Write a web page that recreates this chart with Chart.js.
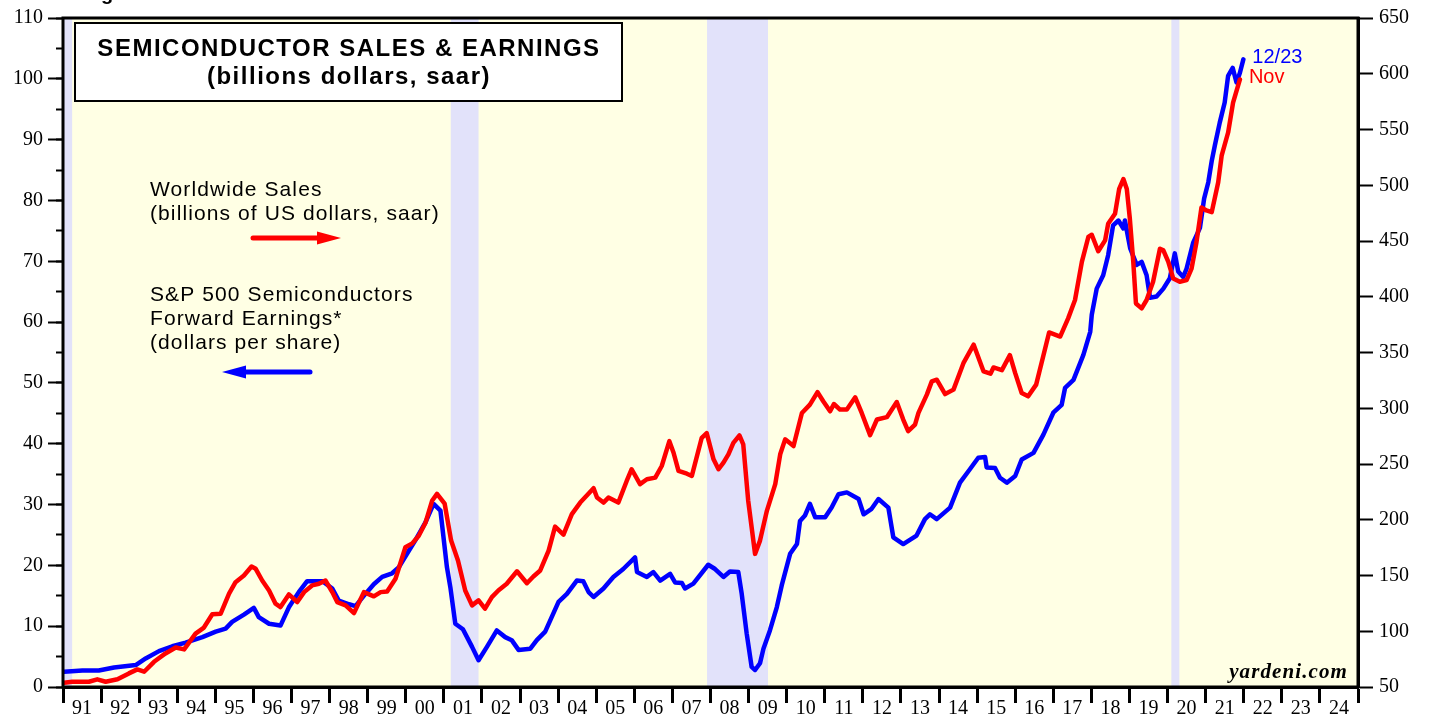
<!DOCTYPE html>
<html><head><meta charset="utf-8">
<script src="https://cdn.jsdelivr.net/npm/chart.js@4.4.1/dist/chart.umd.min.js"></script>
<style>html,body{margin:0;padding:0;background:#fff;overflow:hidden}canvas{display:block}</style>
</head><body><canvas id="c" width="1429" height="719"></canvas>
<script>
// Worldwide semiconductor sales (billions of US dollars, saar) - right axis
const salesYears = [1991.03,1991.24,1991.68,1991.90,1992.12,1992.43,1992.73,1992.95,1993.13,1993.39,1993.69,1993.96,1994.18,1994.48,1994.70,1994.92,1995.14,1995.36,1995.53,1995.75,1995.95,1996.06,1996.23,1996.41,1996.58,1996.71,1996.93,1997.15,1997.33,1997.54,1997.72,1997.89,1998.07,1998.20,1998.42,1998.64,1998.90,1999.16,1999.34,1999.51,1999.73,1999.99,2000.17,2000.34,2000.52,2000.69,2000.82,2001.02,2001.19,2001.37,2001.56,2001.74,2001.91,2002.08,2002.26,2002.43,2002.65,2002.92,2003.18,2003.35,2003.53,2003.75,2003.92,2004.14,2004.36,2004.58,2004.93,2005.02,2005.19,2005.32,2005.58,2005.80,2005.93,2006.15,2006.33,2006.55,2006.72,2006.92,2007.03,2007.16,2007.38,2007.51,2007.77,2007.90,2008.08,2008.21,2008.34,2008.47,2008.60,2008.76,2008.86,2008.99,2009.17,2009.30,2009.48,2009.70,2009.83,2009.96,2010.18,2010.40,2010.61,2010.81,2010.96,2011.14,2011.24,2011.40,2011.58,2011.80,2011.97,2012.19,2012.37,2012.63,2012.89,2013.06,2013.19,2013.37,2013.46,2013.68,2013.81,2013.94,2014.16,2014.38,2014.64,2014.91,2015.17,2015.35,2015.43,2015.65,2015.86,2016.00,2016.17,2016.34,2016.55,2016.76,2016.89,2017.18,2017.39,2017.57,2017.75,2017.92,2018.01,2018.18,2018.36,2018.44,2018.62,2018.73,2018.84,2018.93,2019.01,2019.10,2019.17,2019.32,2019.45,2019.62,2019.80,2019.89,2020.02,2020.15,2020.32,2020.50,2020.63,2020.76,2020.89,2021.02,2021.16,2021.33,2021.42,2021.59,2021.72,2021.90];
const salesValues = [53.8,54.7,54.7,56.9,54.7,56.9,62.2,65.8,63.7,72.6,80.1,85.4,83.7,97.9,103.3,115.2,115.8,133.7,144.0,150.0,158.0,156.0,145.5,136.6,124.7,121.7,133.0,126.2,135.1,141.1,142.6,145.5,135.1,126.2,123.2,116.3,135.1,131.3,135.1,135.7,147.1,175.3,178.8,185.7,197.6,217.0,223.2,214.5,181.3,163.4,136.6,123.2,127.7,120.3,130.6,136.6,142.6,153.8,143.1,149.1,154.5,172.3,193.8,186.6,205.1,215.4,228.3,219.9,215.4,219.9,215.4,234.8,245.3,231.9,236.3,237.8,248.2,270.5,260.1,243.8,241.3,239.3,273.5,277.7,254.2,245.3,251.2,258.7,269.0,275.6,267.6,217.0,169.4,181.3,208.0,231.9,258.7,272.1,266.1,295.8,303.3,314.5,306.3,297.3,303.8,298.8,298.8,309.8,295.8,275.9,289.9,292.0,305.6,289.9,279.5,285.4,295.8,312.2,324.1,325.6,312.7,316.7,340.4,357.0,333.0,331.0,336.6,334.2,347.6,331.5,313.7,310.7,321.2,350.0,368.0,364.3,380.6,397.1,431.3,453.6,455.6,440.8,450.6,465.4,474.4,496.7,505.6,496.7,469.9,431.3,394.0,389.6,397.1,413.4,443.1,441.6,431.3,416.3,413.4,414.9,425.3,449.1,480.0,477.4,475.9,502.7,526.5,547.3,574.1,594.9];

// S&P 500 Semiconductors forward earnings (dollars per share) - left axis
const earnYears = [1991.03,1991.51,1991.94,1992.34,1992.91,1993.17,1993.52,1993.87,1994.22,1994.66,1995.01,1995.27,1995.44,1995.75,1996.01,1996.14,1996.41,1996.71,1996.93,1997.19,1997.41,1997.81,1998.07,1998.24,1998.51,1998.68,1998.94,1999.16,1999.38,1999.64,1999.82,2000.08,2000.25,2000.52,2000.73,2000.91,2001.08,2001.17,2001.30,2001.50,2001.74,2001.91,2002.13,2002.39,2002.61,2002.78,2002.96,2003.27,2003.44,2003.66,2004.01,2004.23,2004.49,2004.66,2004.80,2004.93,2005.19,2005.45,2005.71,2006.02,2006.07,2006.33,2006.50,2006.68,2006.94,2007.07,2007.25,2007.33,2007.55,2007.94,2008.12,2008.34,2008.51,2008.73,2008.82,2008.95,2009.08,2009.17,2009.30,2009.39,2009.56,2009.74,2009.87,2010.09,2010.27,2010.35,2010.48,2010.61,2010.75,2011.01,2011.18,2011.36,2011.58,2011.89,2012.02,2012.23,2012.41,2012.67,2012.80,2013.06,2013.41,2013.63,2013.76,2013.94,2014.29,2014.55,2014.81,2015.03,2015.21,2015.25,2015.47,2015.60,2015.78,2016.00,2016.17,2016.48,2016.74,2017.00,2017.22,2017.31,2017.53,2017.79,2017.97,2018.01,2018.14,2018.31,2018.44,2018.57,2018.71,2018.84,2018.88,2019.02,2019.19,2019.32,2019.45,2019.54,2019.71,2019.89,2020.06,2020.19,2020.28,2020.41,2020.50,2020.67,2020.85,2020.96,2021.07,2021.16,2021.24,2021.37,2021.50,2021.59,2021.71,2021.81,2021.90,2021.99];
const earnValues = [2.5,2.7,2.7,3.2,3.6,4.7,5.9,6.7,7.3,8.2,9.1,9.6,10.7,11.9,13.0,11.5,10.4,10.1,13.1,15.6,17.4,17.4,16.2,14.2,13.6,13.3,15.3,16.9,18.1,18.7,19.7,22.4,24.1,27.1,30.1,29.0,19.7,16.4,10.4,9.5,6.6,4.4,6.6,9.3,8.2,7.7,6.1,6.3,7.7,9.1,14.0,15.3,17.5,17.4,15.6,14.8,16.2,18.1,19.4,21.3,18.9,18.1,18.9,17.5,18.6,17.2,17.1,16.2,17.0,20.1,19.4,18.1,19.0,18.9,15.3,8.8,3.3,2.8,3.9,6.3,9.3,13.1,16.7,21.9,23.5,27.3,28.2,30.1,27.9,27.9,29.5,31.7,32.0,30.9,28.4,29.3,30.9,29.5,24.6,23.5,24.9,27.6,28.4,27.6,29.5,33.6,35.8,37.7,37.8,36.1,36.0,34.4,33.6,34.7,37.4,38.5,41.5,45.1,46.4,49.2,50.5,54.6,58.4,61.2,65.5,67.7,71.0,75.9,76.7,75.4,76.7,72.1,69.4,69.9,67.7,64.0,64.2,65.5,67.2,71.3,68.3,67.4,68.8,73.0,75.5,80.3,83.0,86.5,89.0,92.8,96.1,100.5,101.8,99.4,101.0,103.2];

const yearLabels = ['91','92','93','94','95','96','97','98','99','00','01','02','03','04','05','06','07','08','09','10','11','12','13','14','15','16','17','18','19','20','21','22','23','24'];
const firstYear = 1991;
const recessions = [[1990.5,1991.24],[2001.18,2001.91],[2007.91,2009.51],[2020.10,2020.31]];
const titleLines = ['SEMICONDUCTOR SALES & EARNINGS','(billions dollars, saar)'];
const salesLegend = ['Worldwide Sales','(billions of US dollars, saar)'];
const earnLegend = ['S&P 500 Semiconductors','Forward Earnings*','(dollars per share)'];
const earnEndLabel = '12/23';
const salesEndLabel = 'Nov';
const sourceLabel = 'yardeni.com';

const RED = '#FF0000', BLUE = '#0000FF';

function txt(ctx, s, x, y, font, color, align, spacing) {
  ctx.save();
  ctx.font = font; ctx.fillStyle = color; ctx.textAlign = align || 'left'; ctx.textBaseline = 'alphabetic';
  if ('letterSpacing' in ctx) ctx.letterSpacing = (spacing || 0) + 'px';
  ctx.fillText(s, x, y);
  ctx.restore();
}
function arrow(ctx, x1, x2, y, color) {
  ctx.save();
  ctx.strokeStyle = color; ctx.fillStyle = color; ctx.lineWidth = 5; ctx.lineCap = 'round';
  const dir = Math.sign(x2 - x1);
  const hx = x2 - dir * 24;
  ctx.beginPath(); ctx.moveTo(x1, y); ctx.lineTo(hx, y); ctx.stroke();
  ctx.beginPath(); ctx.moveTo(x2, y); ctx.lineTo(hx, y - 6.5); ctx.lineTo(hx, y + 6.5); ctx.closePath(); ctx.fill();
  ctx.restore();
}

const decor = {
  id: 'decor',
  beforeDatasetsDraw(chart) {
    const {ctx, chartArea: a, scales} = chart;
    ctx.save();
    ctx.fillStyle = 'rgb(255,255,228)';
    ctx.fillRect(a.left, a.top, a.right - a.left, a.bottom - a.top);
    ctx.beginPath(); ctx.rect(a.left, a.top, a.right - a.left, a.bottom - a.top); ctx.clip();
    ctx.fillStyle = 'rgb(226,226,250)';
    recessions.forEach(([s, e]) => {
      const x1 = scales.x.getPixelForValue(s), x2 = scales.x.getPixelForValue(e);
      ctx.fillRect(x1, a.top, x2 - x1, a.bottom - a.top);
    });
    ctx.restore();
  },
  afterDatasetsDraw(chart) {
    const {ctx, chartArea: a, scales} = chart;
    ctx.save();
    ctx.strokeStyle = '#000'; ctx.lineWidth = 3;
    ctx.strokeRect(a.left, a.top, a.right - a.left, a.bottom - a.top);
    ctx.restore();
    // title box
    ctx.save();
    ctx.fillStyle = '#fff'; ctx.fillRect(75, 23, 547, 78);
    ctx.strokeStyle = '#000'; ctx.lineWidth = 2; ctx.strokeRect(75, 23, 547, 78);
    ctx.restore();
    const tf = 'bold 24px "Liberation Sans", Arial, sans-serif';
    txt(ctx, titleLines[0], 349, 56, tf, '#000', 'center', 1.5);
    txt(ctx, titleLines[1], 349, 84, tf, '#000', 'center', 1.5);
    // legend
    const lf = '21px "Liberation Sans", Arial, sans-serif';
    txt(ctx, salesLegend[0], 150, 196, lf, '#000', 'left', 1.1);
    txt(ctx, salesLegend[1], 150, 220, lf, '#000', 'left', 1.1);
    arrow(ctx, 253, 341, 238, RED);
    txt(ctx, earnLegend[0], 150, 301, lf, '#000', 'left', 1.1);
    txt(ctx, earnLegend[1], 150, 325, lf, '#000', 'left', 1.1);
    txt(ctx, earnLegend[2], 150, 349, lf, '#000', 'left', 1.1);
    arrow(ctx, 310, 222, 372, BLUE);
    // end labels
    const bx = scales.x.getPixelForValue(earnYears[earnYears.length - 1]);
    const by = scales.y.getPixelForValue(earnValues[earnValues.length - 1]);
    txt(ctx, earnEndLabel, bx + 9, by + 4, '20px "Liberation Sans", Arial, sans-serif', BLUE, 'left', 0);
    const rx = scales.x.getPixelForValue(salesYears[salesYears.length - 1]);
    const ry = scales.y2.getPixelForValue(salesValues[salesValues.length - 1]);
    txt(ctx, salesEndLabel, rx + 9, ry + 4, '20px "Liberation Sans", Arial, sans-serif', RED, 'left', 0);
    // source
    txt(ctx, sourceLabel, 1348, 678, 'bold italic 21px "Liberation Serif", "Times New Roman", serif', '#000', 'right', 1.1);
    // clipped header glyph at top
    txt(ctx, 'g', 101, 0, 'bold 20px "Liberation Sans", Arial, sans-serif', '#000', 'left', 0);
  }
};

const serif = {family: '"Liberation Serif", "Times New Roman", serif', size: 20};

new Chart(document.getElementById('c'), {
  type: 'line',
  data: {
    datasets: [
      {label: 'Worldwide Sales', yAxisID: 'y2', data: salesYears.map((x, i) => ({x, y: salesValues[i]})), borderColor: RED, borderWidth: 4.5, pointRadius: 0, tension: 0, borderJoinStyle: 'round', borderCapStyle: 'round', fill: false},
      {label: 'Forward Earnings', yAxisID: 'y', data: earnYears.map((x, i) => ({x, y: earnValues[i]})), borderColor: BLUE, borderWidth: 4.5, pointRadius: 0, tension: 0, borderJoinStyle: 'round', borderCapStyle: 'round', fill: false}
    ]
  },
  options: {
    responsive: false, animation: false, devicePixelRatio: 1,
    layout: {padding: {top: 15, left: 0, right: 0, bottom: 0}},
    plugins: {legend: {display: false}, tooltip: {enabled: false}, title: {display: false}},
    scales: {
      x: {
        type: 'linear', position: 'bottom', min: firstYear, max: firstYear + yearLabels.length,
        afterBuildTicks: s => {
          const t = [];
          for (let i = 0; i < yearLabels.length; i++) { t.push({value: firstYear + i}); t.push({value: firstYear + i + 0.5}); }
          t.push({value: firstYear + yearLabels.length});
          s.ticks = t;
        },
        ticks: {
          autoSkip: false, maxRotation: 0, minRotation: 0, padding: -6, color: '#000', font: serif,
          callback: v => (Math.abs(v - Math.floor(v) - 0.5) < 0.01) ? yearLabels[Math.floor(v) - firstYear] : ''
        },
        grid: {drawOnChartArea: false, drawTicks: true, tickLength: 16, tickWidth: 3,
          tickColor: c => (c.tick && Number.isInteger(c.tick.value)) ? '#000' : 'rgba(0,0,0,0)'},
        border: {display: true, color: '#000', width: 3},
        afterFit: s => { s.height = 32; }
      },
      y: {
        position: 'left', weight: 1, min: 0, max: 110,
        ticks: {stepSize: 10, color: '#000', font: serif, padding: 5},
        grid: {drawOnChartArea: false, tickLength: 15, tickWidth: 2, tickColor: '#000'},
        border: {display: true, color: '#000', width: 3},
        afterFit: s => { s.width = 63; }
      },
      yMinor: {
        position: 'left', weight: 0, min: 0, max: 110,
        ticks: {stepSize: 5, callback: () => '', autoSkip: false},
        grid: {drawOnChartArea: false, tickLength: 7, tickWidth: 2, tickColor: '#000'},
        border: {display: false},
        afterFit: s => { s.width = 0; }
      },
      y2: {
        position: 'right', min: 50, max: 650,
        ticks: {stepSize: 50, color: '#000', font: serif, padding: 6},
        grid: {drawOnChartArea: false, tickLength: 15, tickWidth: 2, tickColor: '#000'},
        border: {display: true, color: '#000', width: 3},
        afterFit: s => { s.width = 71; }
      }
    }
  },
  plugins: [decor]
});
</script>
</body></html>
